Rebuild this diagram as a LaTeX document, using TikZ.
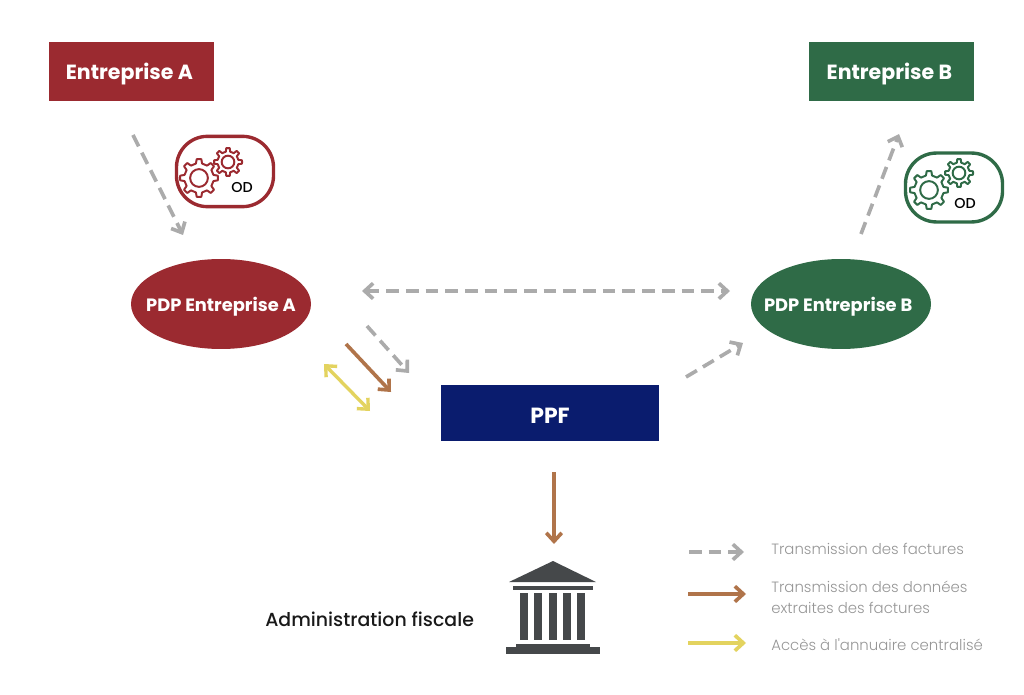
\documentclass[tikz,border=0pt]{standalone}
\usepackage{fontspec}
\setmainfont{Poppins}
\newfontfamily\lightfont{Poppins Light}
\newfontfamily\mediumfont{Poppins Medium}
\usetikzlibrary{arrows.meta,shapes.geometric}
\definecolor{redA}{HTML}{9B2A30}
\definecolor{greenB}{HTML}{2F6B47}
\definecolor{navyP}{HTML}{0A1C6E}
\definecolor{flowgray}{HTML}{ABABAB}
\definecolor{flowbrown}{HTML}{B0744A}
\definecolor{flowyellow}{HTML}{E3D35F}
\definecolor{legendtext}{HTML}{969696}
\definecolor{bank}{HTML}{45484A}
\tikzset{
    box/.style={draw=none,fill=#1,text=white,font=\bfseries\fontsize{14.6}{15}\selectfont,text height=12pt,text depth=0pt,minimum width=117.5pt,minimum height=42pt,inner sep=0pt},
    pdp/.style={ellipse,fill=#1,text=white,font=\bfseries\fontsize{12.7}{13}\selectfont,text height=10.4pt,text depth=0pt,minimum width=128pt,minimum height=64pt,inner xsep=-30pt,inner ysep=0pt},
    odbox/.style={draw=#1,line width=2.4pt,fill=white,rounded corners=22pt,inner sep=0pt},
    odtext/.style={font=\mediumfont\fontsize{10.2}{10}\selectfont,text=black},
    flow/.style={line width=2.6pt,-{Straight Barb[length=6pt,width=11pt,line width=2.6pt]}},
    invoice/.style={flow,color=flowgray,dash pattern=on 9pt off 5pt},
    extract/.style={flow,color=flowbrown},
    annuaire/.style={flow,color=flowyellow},
    legendlabel/.style={anchor=west,align=left,text=legendtext,font=\lightfont\fontsize{10.6}{15}\selectfont,inner sep=0pt},
    pics/gear/.style n args={3}{code={
        \draw[#3,line width=1.4pt,line join=round] (0:#1)
            \foreach \a in {0,45,...,315} {
                -- (\a+7:#1) -- (\a+12:#2) -- (\a+33:#2) -- (\a+38:#1)
            } -- cycle;
        \draw[#3,line width=1.4pt] (0,0) circle ({#2*0.6});
    }}
}
\begin{document}
\begin{tikzpicture}[x=0.025cm,y=-0.025cm]
    \useasboundingbox (0,0) rectangle (1024,695);

    \node[box=redA] at (131.5,71.5) (entA) {Entreprise A\kern 3pt};
    \node[box=greenB] at (891.5,71.5) (entB) {Entreprise B\kern 3pt};
    \node[pdp=redA] at (221,304) (pdpA) {PDP Entreprise A};
    \node[pdp=greenB] at (841,304) (pdpB) {PDP Entreprise B\kern 4pt};
    \node[box=navyP,minimum width=155pt,minimum height=40pt,text height=14.4pt,font=\bfseries\fontsize{15.6}{16}\selectfont] at (550,413) (ppf) {PPF};

    % OD boxes
    \node[odbox=redA,minimum width=69pt,minimum height=50pt] at (225,171.5) (odA) {};
    \pic at (199,178) {gear={13.5pt}{10.5pt}{redA}};
    \pic at (228,162) {gear={10pt}{7.5pt}{redA}};
    \node[odtext] at (242,188) (odtA) {OD};

    \node[odbox=greenB,minimum width=69pt,minimum height=49pt] at (954,187.5) (odB) {};
    \pic at (929,190) {gear={13.5pt}{10.5pt}{greenB}};
    \pic at (959,173) {gear={10pt}{7.5pt}{greenB}};
    \node[odtext] at (965,204) (odtB) {OD};

    % free ends
    \coordinate (a1) at (133,135);
    \coordinate (a2) at (183,235);
    \coordinate (b1) at (861,234);
    \coordinate (b2) at (899,134);
    \coordinate (h1) at (362,291);
    \coordinate (h2) at (730,291);
    \coordinate (g1) at (367,326);
    \coordinate (g2) at (409,373);
    \coordinate (m1) at (346,344);
    \coordinate (m2) at (391,392);
    \coordinate (y1) at (324,364);
    \coordinate (y2) at (370,411);
    \coordinate (p1) at (686,377);
    \coordinate (p2) at (743,343);
    \coordinate (f1) at (554,472);
    \coordinate (f2) at (554,544);

    \draw[invoice] (a1) -- (a2);
    \draw[invoice] (b1) -- (b2);
    \draw[invoice,{Straight Barb[length=6pt,width=11pt,line width=2.6pt]}-{Straight Barb[length=6pt,width=11pt,line width=2.6pt]}] (h1) -- (h2);
    \draw[invoice] (g1) -- (g2);
    \draw[extract] (m1) -- (m2);
    \draw[annuaire,{Straight Barb[length=6pt,width=11pt,line width=2.4pt]}-{Straight Barb[length=6pt,width=11pt,line width=2.4pt]},line width=2.4pt] (y1) -- (y2);
    \draw[invoice] (p1) -- (p2);
    \draw[extract] (f1) -- (f2);

    % administration
    \fill[bank] (553,561) -- (596,582) -- (509,582) -- cycle;
    \fill[bank] (513,586) rectangle (593,590);
    \foreach \x in {520,534.3,548.6,562.9,577.2}
        \fill[bank] (\x,593) rectangle ++(8,47);
    \fill[bank] (516,644) rectangle (590,647);
    \fill[bank] (506,647) rectangle (600,654);
    \node[anchor=west,inner sep=0pt,text=black!90,font=\mediumfont\fontsize{13.45}{15}\selectfont] at (265,619) (admin) {Administration fiscale};

    % legend
    \coordinate (l1) at (689,552);
    \coordinate (l2) at (744,552);
    \coordinate (l3) at (688,594);
    \coordinate (l4) at (746,594);
    \coordinate (l5) at (688,643);
    \coordinate (l6) at (746,643);
    \draw[invoice] (l1) -- (l2);
    \draw[extract] (l3) -- (l4);
    \draw[annuaire] (l5) -- (l6);
    \node[legendlabel] at (771,549) (leg1) {Transmission des factures};
    \node[legendlabel] at (771,597) (leg2) {Transmission des données\\extraites des factures};
    \node[legendlabel] at (771,645) (leg3) {Accès à l'annuaire centralisé};
\end{tikzpicture}
\end{document}
